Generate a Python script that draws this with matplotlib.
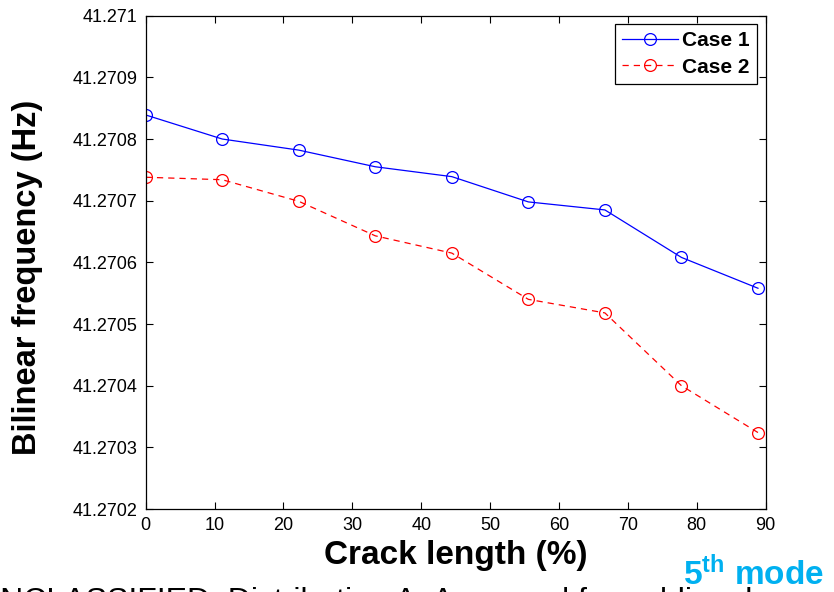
import numpy as np
import matplotlib
matplotlib.use("Agg")
import matplotlib.pyplot as plt

plt.rcParams['font.family'] = ['Liberation Sans', 'DejaVu Sans']
plt.rcParams['mathtext.fontset'] = 'custom'
plt.rcParams['mathtext.rm'] = 'Liberation Sans'
plt.rcParams['mathtext.bf'] = 'Liberation Sans:bold'

# data
crack = [0, 100/9, 200/9, 300/9, 400/9, 500/9, 600/9, 700/9, 800/9]
case1 = [41.270839, 41.270800, 41.270782, 41.270755, 41.270739,
         41.270698, 41.270685, 41.270608, 41.270558]
case2 = [41.270738, 41.270734, 41.270699, 41.270643, 41.270615,
         41.270540, 41.270518, 41.270400, 41.270324]
yticks = [41.2702, 41.2703, 41.2704, 41.2705, 41.2706, 41.2707,
          41.2708, 41.2709, 41.271]
ytick_labels = ["41.2702", "41.2703", "41.2704", "41.2705", "41.2706",
                "41.2707", "41.2708", "41.2709", "41.271"]

fig = plt.figure(figsize=(8.34, 5.92), dpi=100)
ax = fig.add_axes([0.1747, 0.1402, 0.918 - 0.1747, 0.9735 - 0.1402])

ax.plot(crack, case1, color='blue', lw=0.9, marker='o', ms=8.5,
        mfc='none', mec='blue', mew=0.9, label='Case 1')
ax.plot(crack, case2, color='red', lw=0.9, ls=(0, (5, 4)), marker='o', ms=8.5,
        mfc='none', mec='red', mew=0.9, label='Case 2')

ax.set_xlim(0, 90)
ax.set_ylim(41.2702, 41.271)
ax.set_xticks(np.arange(0, 91, 10))
ax.set_yticks(yticks)
ax.set_yticklabels(ytick_labels)
ax.tick_params(direction='in', top=True, right=True, length=5, width=0.8,
               labelsize=13, pad=6)
for s in ax.spines.values():
    s.set_linewidth(0.9)

ax.set_xlabel("Crack length (%)", fontsize=24, fontweight='bold', labelpad=4)
ax.set_ylabel("Bilinear frequency (Hz)", fontsize=23.5, fontweight='bold')
ax.yaxis.set_label_coords(-0.165, 0.47)

leg = ax.legend(loc='upper right', prop={'weight': 'bold', 'size': 15},
                fancybox=False, edgecolor='black', framealpha=1,
                handlelength=2.7, borderaxespad=0.4, labelspacing=0.35,
                handletextpad=0.2, borderpad=0.35)
leg.get_frame().set_linewidth(0.9)

fig.text(-0.028, -0.031, "UNCLASSIFIED: Distribution A. Approved for public release",
         fontsize=23, color='black', ha='left', va='baseline')
fig.text(824 / 834, 1 - 585 / 592, r"$\mathbf{5^{th}}$ mode", fontsize=24,
         fontweight='bold', color='#00B0F0', ha='right', va='baseline')

fig.savefig("out.png", dpi=100)
